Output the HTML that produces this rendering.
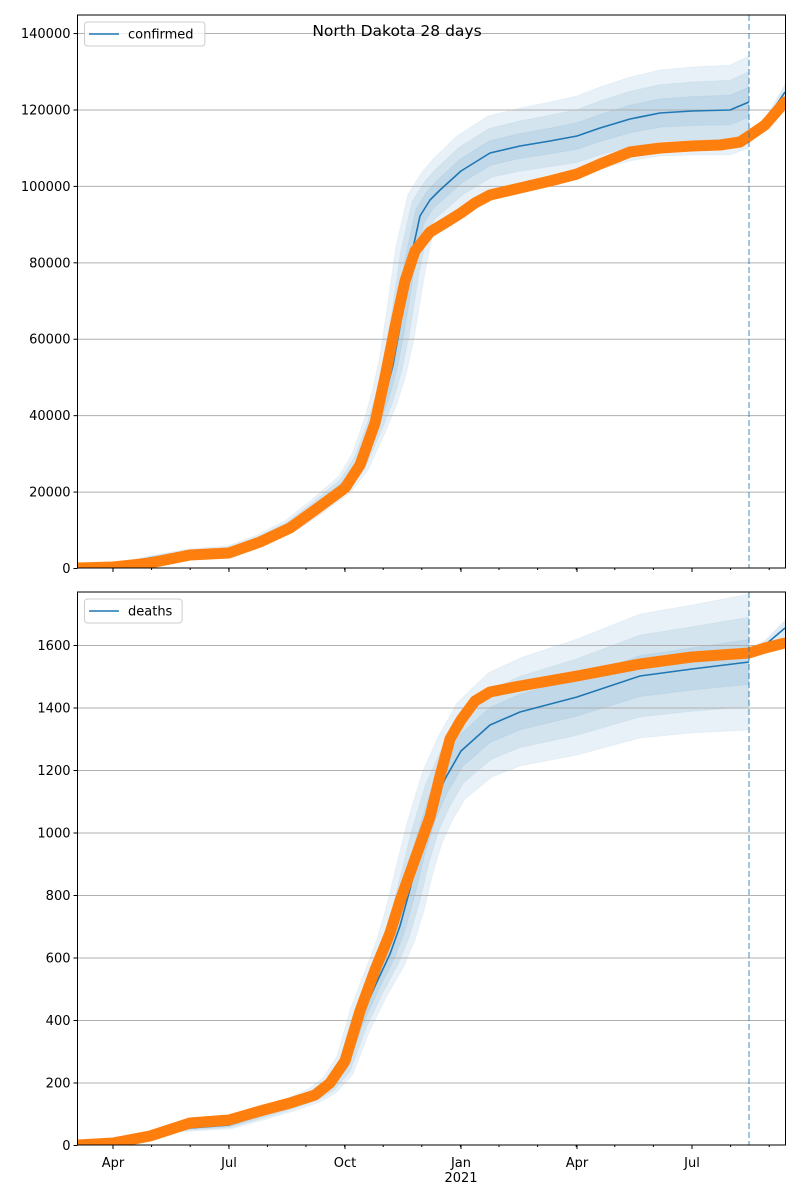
<!DOCTYPE html>
<html><head><meta charset="utf-8"><style>
html,body{margin:0;padding:0;background:#fff;width:800px;height:1200px;overflow:hidden}
svg text{font-family:"DejaVu Sans","Liberation Sans",sans-serif;font-size:13px;fill:#000}
</style></head><body>
<svg id="s" width="800" height="1200" xmlns="http://www.w3.org/2000/svg"></svg>
<script>
const S=document.getElementById('s');let h='';
function band(pts,s){const up=pts.map(p=>[p[0]-p[2]*s,p[1]-p[3]*s]);const lo=pts.map(p=>[p[0]+p[2]*s,p[1]+p[3]*s]).reverse();return up.concat(lo).map(p=>p.join(',')).join(' ');}
function poly(p){return p.map(q=>q[0]+','+q[1]).join(' ');}
function panel(y0,y1,ticks,line,dots,post,legend){
 const xl=77.5,xr=785.5;
 h+=`<defs><clipPath id="c${y0}"><rect x="${xl}" y="${y0}" width="${xr-xl}" height="${y1-y0}"/></clipPath></defs>`;
 h+=`<g clip-path="url(#c${y0})">`;
 for(const s of [1,0.66,0.33]) h+=`<polygon points="${band(line,s)}" fill="#1f77b4" fill-opacity="0.1" stroke="#1f77b4" stroke-opacity="0.05"/>`;
 h+=`<polygon points="${band(post,1)}" fill="#1f77b4" fill-opacity="0.15"/>`;
 for(const t of ticks){h+=`<line x1="${xl}" x2="${xr}" y1="${t[0]}" y2="${t[0]}" stroke="#b0b0b0" stroke-width="1"/>`;}
 h+=`<polyline points="${poly(line)}" fill="none" stroke="#1f77b4" stroke-width="1.6" stroke-linejoin="round"/>`;
 h+=`<polyline points="${poly(post)}" fill="none" stroke="#1f77b4" stroke-width="1.6"/>`;
 h+=`<polyline points="${poly(dots)}" fill="none" stroke="#ff7f0e" stroke-width="11" stroke-linecap="round" stroke-linejoin="round"/>`;
 h+=`<line x1="749" x2="749" y1="${y0}" y2="${y1}" stroke="#1f77b4" stroke-opacity="0.55" stroke-width="1.5" stroke-dasharray="6,3"/>`;
 h+=`</g>`;
 h+=`<rect x="${xl}" y="${y0}" width="${xr-xl}" height="${y1-y0}" fill="none" stroke="#000" stroke-width="1"/>`;
 for(const t of ticks){h+=`<line x1="${xl-4}" x2="${xl}" y1="${t[0]}" y2="${t[0]}" stroke="#000"/><text x="${xl-7}" y="${t[0]+4.5}" text-anchor="end">${t[1]}</text>`;}
 const maj=[113,229,345,461,577,692];
 for(let m=-1;m<19;m++){const x=113+m*38.6;if(x>xl&&x<xr)h+=`<line x1="${x}" x2="${x}" y1="${y1}" y2="${y1+2}" stroke="#000"/>`;}
 for(const x of maj)h+=`<line x1="${x}" x2="${x}" y1="${y1}" y2="${y1+4}" stroke="#000"/>`;
 h+=`<rect x="84.5" y="${y0+7}" width="${legend.length*7.6+52}" height="24" rx="3" fill="#fff" fill-opacity="0.8" stroke="#ccc"/>`;
 h+=`<line x1="89" x2="119" y1="${y0+19}" y2="${y0+19}" stroke="#1f77b4" stroke-width="1.6"/>`;
 h+=`<text x="128" y="${y0+23.5}">${legend}</text>`;
}
const tT=[];for(let v=0;v<=140000;v+=20000)tT.push([568.5-v*0.003821,v]);
const lineT=[[77,568,0,0],[113,566,1,1],[150,558,1,2],[190,552,2,3],[229,550,2,4],[260,540,3,5],[290,526,4,6],[315,508,5,7],[345,484,6,8],[360,462,8,8],[375,425,10,8],[385,396,12,8],[393,365,13,10],[400,327,14,12],[410,262,14,16],[420,216,12,22],[430,200,8,28],[440,190,6,32],[461,171,4,35],[490,153,2,37],[520,146,0,38],[550,141,0,39],[577,136,0,40],[600,128,0,41],[630,119,0,42],[660,113,0,43],[692,111,0,44],[730,110,0,45],[749,102,0,46]];
const dotT=[[77,568],[113,567],[150,563],[190,555],[229,553],[260,542],[290,528],[315,510],[345,488],[360,465],[375,423],[385,377],[395,327],[405,281],[415,251],[430,232],[445,223],[461,213],[475,203],[490,195],[520,188],[550,181],[577,174],[600,164],[630,152],[660,148],[692,146],[720,145],[740,142],[749,136],[765,125],[785,102]];
const postT=[[749,136,0,2],[765,122,0,4],[785,92,0,8]];
panel(15,568,tT,lineT,dotT,postT,'confirmed');
const tB=[];for(let v=0;v<=1600;v+=200)tB.push([1145.5-v*0.3125,v]);
const lineB=[[77,1145,0,0],[113,1143,1,1],[150,1133,1,2],[190,1128,2,3],[229,1125,2,4],[260,1115,3,5],[290,1105,4,6],[315,1095,5,7],[330,1085,6,8],[345,1065,8,9],[360,1020,10,10],[375,986,12,10],[390,954,14,12],[400,926,15,14],[410,889,15,18],[420,848,13,25],[432,808,10,35],[445,779,7,42],[461,751,4,48],[490,725,2,52],[520,712,0,54],[577,697,0,58],[640,676,0,62],[692,669,0,64],[749,662,0,68]];
const dotB=[[77,1145],[113,1143],[150,1136],[190,1123],[229,1120],[260,1111],[290,1103],[315,1095],[330,1083],[345,1061],[360,1011],[375,970],[390,933],[400,901],[410,873],[420,845],[430,817],[440,776],[450,739],[461,720],[475,701],[490,692],[520,686],[577,676],[640,664],[692,657],[749,653],[765,648],[785,643]];
const postB=[[749,652,0,3],[765,645,0,5],[785,628,0,8]];
panel(592,1145,tB,lineB,dotB,postB,'deaths');
const labs=[[113,'Apr'],[229,'Jul'],[345,'Oct'],[461,'Jan'],[577,'Apr'],[692,'Jul']];
for(const l of labs)h+=`<text x="${l[0]}" y="1167" text-anchor="middle">${l[1]}</text>`;
h+=`<text x="461" y="1182" text-anchor="middle">2021</text>`;
h+=`<text x="397" y="36" text-anchor="middle" style="font-size:15.5px">North Dakota 28 days</text>`;
S.innerHTML=h;
</script>
</body></html>
